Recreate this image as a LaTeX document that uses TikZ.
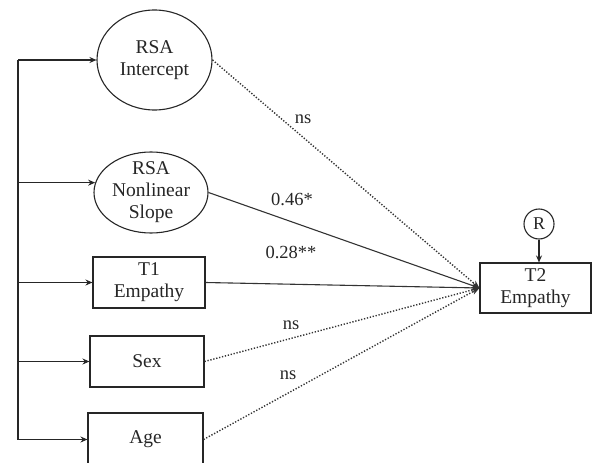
\documentclass[tikz,border=0pt]{standalone}
\usepackage{fontspec}
\setmainfont{Liberation Serif}
\usetikzlibrary{arrows.meta,shapes.geometric}
\begin{document}
\begin{tikzpicture}[x=1pt,y=-1pt,
  every node/.style={font=\fontsize{19.5}{22}\selectfont, text=black!85},
  oval/.style={draw=black!85, ellipse, inner sep=0pt, line width=1.1pt},
  inner/.style={align=center},
  box/.style={draw=black!85, rectangle, inner sep=0pt, align=center, line width=1.1pt, minimum height=51pt},
  feed/.style={draw=black!85, line width=1.1pt, -{Stealth[length=7pt,width=6pt]}},
  pathsolid/.style={draw=black!80, line width=1.1pt, -{Stealth[length=8pt,width=6pt]}},
  pathdot/.style={draw=black!80, line width=1.4pt, dash pattern=on 1.3pt off 1.7pt, -{Stealth[length=8pt,width=6pt]}},
  lab/.style={font=\fontsize{18.5}{20}\selectfont}
]
\useasboundingbox (0,0) rectangle (592,463);
\begin{scope}
\clip (0,0) rectangle (592,463);
\node[oval, minimum width=115pt, minimum height=100pt,
      label={[inner]center:RSA\\Intercept}] (icpt) at (154.5,60) {};
\node[oval, minimum width=114pt, minimum height=81pt,
      label={[inner]center:RSA\\Nonlinear\\Slope}] (slope) at (151,192.5) {};
\node[box, minimum width=112pt] (t1) at (149,282.5) {T1\\Empathy};
\node[box, minimum width=114pt] (sex) at (147,361.5) {Sex};
\node[box, minimum width=115pt, minimum height=53pt] (age) at (145.5,439.5) {Age};
\node[box, minimum width=111pt, minimum height=50pt] (t2) at (535.5,288) {T2\\Empathy};
\node[draw=black!85, circle, minimum size=30pt, inner sep=0pt, line width=1.1pt,
      font=\fontsize{18}{20}\selectfont] (r) at (539,224) {R};

\coordinate (btop) at (18,60);
\coordinate (b2) at (btop |- slope.170);
\coordinate (b3) at (btop |- t1.west);
\coordinate (b4) at (btop |- sex.west);
\coordinate (bbot) at (btop |- age.west);
\draw[draw=black!85, line width=1.1pt] (btop) -- (bbot);
\draw[feed] (btop) -- (icpt.west);
\draw[feed] (b2) -- (slope.170);
\draw[feed] (b3) -- (t1.west);
\draw[feed] (b4) -- (sex.west);
\draw[feed] (bbot) -- (age.west);

\draw[pathdot] (icpt.east) -- (t2.west);
\draw[pathsolid] (slope.east) -- (t2.west);
\draw[pathsolid] (t1.east) -- (t2.west);
\draw[pathdot] (sex.east) -- (t2.west);
\draw[pathdot] (age.east) -- (t2.west);
\draw[feed] (r.south) -- (r.south |- t2.north);

\node[lab] (l1) at (303,119) {ns};
\node[lab] (l2) at (292,199) {0.46*};
\node[lab] (l3) at (291,252) {0.28**};
\node[lab] (l4) at (291,325) {ns};
\node[lab] (l5) at (288,375) {ns};
\end{scope}
\end{tikzpicture}
\end{document}
